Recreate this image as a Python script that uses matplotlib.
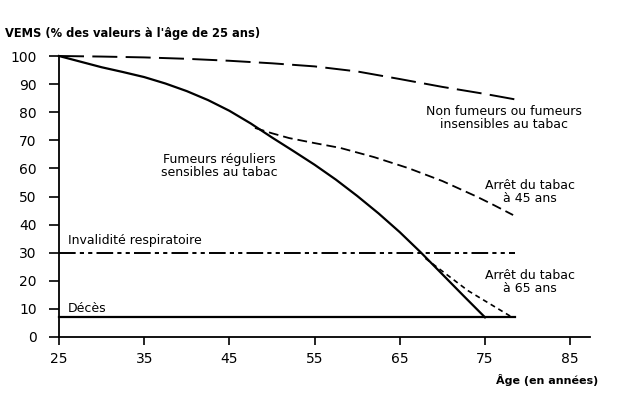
import matplotlib
matplotlib.use("Agg")
import matplotlib.pyplot as plt

plt.rcParams['font.family'] = ['DejaVu Sans']
plt.rcParams['lines.scale_dashes'] = False

# Data
ages_non = [25, 30, 35, 40, 45, 50, 55, 60, 65, 70, 75, 79]
vems_non = [100, 99.8, 99.5, 99, 98.3, 97.4, 96.3, 94.5, 91.8, 89, 86.5, 84.3]

ages_smk = [25, 27.5, 30, 32.5, 35, 37.5, 40, 42.5, 45, 47.5, 50, 52.5, 55, 57.5,
            60, 62.5, 65, 67.5, 70, 72.5, 75]
vems_smk = [100, 98, 96, 94.3, 92.5, 90.2, 87.5, 84.3, 80.5, 76, 71, 66.2, 61.3, 56,
            50.2, 44, 37.3, 30, 22.3, 14.6, 7]

ages_q45 = [48, 50, 52, 55, 58, 62, 66, 70, 74, 76, 78.3]
vems_q45 = [74.4, 72.5, 70.8, 69, 67.3, 64, 60.1, 55.5, 50, 47, 43.4]

ages_q65 = [68, 73, 78.2]
vems_q65 = [28, 16.5, 7]

invalid_level = 30
deces_level = 7
line_ages = [25, 78.5]

xticks = [25, 35, 45, 55, 65, 75, 85]
yticks = [0, 10, 20, 30, 40, 50, 60, 70, 80, 90, 100]

W, H = 628, 394
fig = plt.figure(figsize=(W / 100, H / 100), dpi=100)
ax = fig.add_axes([59 / W, 1 - 337 / H, (590 - 59) / W, (337 - 56) / H])
ax.set_xlim(25, 25 + (590 - 59) / 8.52)
ax.set_ylim(0, 100)

for s in ['top', 'right']:
    ax.spines[s].set_visible(False)
for s in ['left', 'bottom']:
    ax.spines[s].set_linewidth(1.3)
ax.spines['left'].set_bounds(0, 100)

ax.set_xticks(xticks)
ax.set_yticks(yticks)
ax.tick_params(axis='y', direction='out', length=7, width=1.2, pad=9, labelsize=10)
ax.tick_params(axis='x', direction='out', length=6, width=1.2, pad=5, labelsize=10)

k = 'black'
ax.plot(ages_non, vems_non, color=k, lw=1.4, linestyle=(0, (18, 6)), clip_on=False)
ax.plot(ages_smk, vems_smk, color=k, lw=1.6, clip_on=False)
ax.plot(ages_q45, vems_q45, color=k, lw=1.3, linestyle=(0, (7, 3.6)), clip_on=False)
ax.plot(ages_q65, vems_q65, color=k, lw=1.2, linestyle=(0, (3.6, 2.8)), clip_on=False)
ax.plot(line_ages, [invalid_level] * 2, color=k, lw=1.4,
        linestyle=(0, (12, 3, 3, 3, 3, 3)), clip_on=False)
ax.plot(line_ages, [deces_level] * 2, color=k, lw=1.6, clip_on=False)

fs = 9
ax.text(43.8, 60.7, "Fumeurs réguliers\nsensibles au tabac", ha='center', va='center',
        fontsize=fs, linespacing=1.0)
ax.text(77.2, 78.1, "Non fumeurs ou fumeurs\ninsensibles au tabac", ha='center', va='center',
        fontsize=fs, linespacing=1.0)
ax.text(80.3, 51.6, "Arrêt du tabac\nà 45 ans", ha='center', va='center',
        fontsize=fs, linespacing=1.0)
ax.text(80.3, 19.75, "Arrêt du tabac\nà 65 ans", ha='center', va='center',
        fontsize=fs, linespacing=1.0)
ax.text(26.05, 34.5, "Invalidité respiratoire", ha='left', va='center', fontsize=fs)
ax.text(26.05, 10.3, "Décès", ha='left', va='center', fontsize=fs)

fig.text(5 / W, 1 - 34 / H, "VEMS (% des valeurs à l'âge de 25 ans)", ha='left', va='center',
         fontsize=8.3, fontweight='bold')
fig.text(598 / W, 1 - 380 / H, "Âge (en années)", ha='right', va='center',
         fontsize=8, fontweight='bold')

fig.savefig("out.png", dpi=100)
